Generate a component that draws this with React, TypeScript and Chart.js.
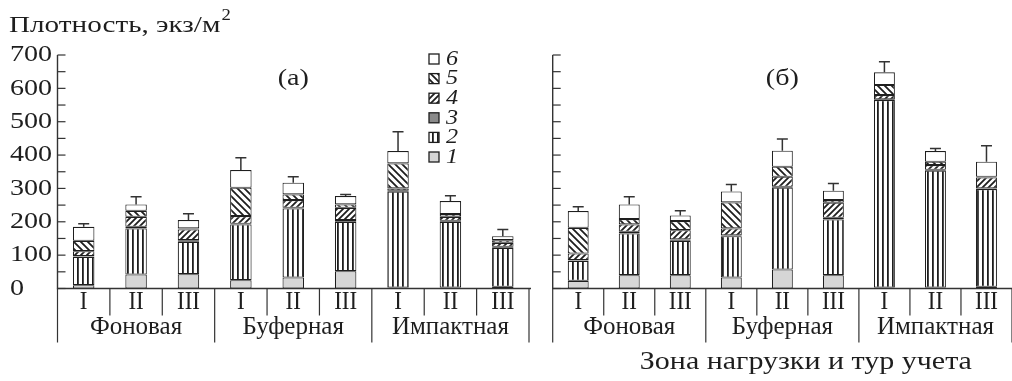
import React, { useEffect, useRef } from "react";
import { Chart, registerables } from "chart.js";

Chart.register(...registerables);

// ---- data ----
const categories = ["I", "II", "III", "I", "II", "III", "I", "II", "III"];
const groups = ["Фоновая", "Буферная", "Импактная"];
const yTicks = [0, 100, 200, 300, 400, 500, 600, 700];
const seriesNames = ["1", "2", "3", "4", "5", "6"];

// panel (а)
const a1 = [10, 42, 43, 25, 33, 52, 3, 3, 5];
const a2 = [85, 138, 97, 167, 207, 148, 287, 197, 117];
const a3 = [2, 5, 5, 2, 2, 5, 3, 3, 3];
const a4 = [15, 30, 32, 23, 23, 37, 7, 12, 12];
const a5 = [31, 18, 3, 85, 17, 10, 75, 8, 8];
const a6 = [42, 19, 25, 53, 35, 25, 37, 39, 12];
const aErr = [9, 23, 19, 37, 18, 5, 58, 16, 20];

// panel (б)
const b1 = [23, 40, 40, 33, 57, 40, 3, 3, 5];
const b2 = [60, 125, 103, 124, 245, 167, 562, 350, 293];
const b3 = [2, 5, 4, 2, 3, 5, 2, 3, 2];
const b4 = [20, 22, 28, 21, 30, 45, 13, 14, 33];
const b5 = [77, 16, 27, 78, 30, 8, 30, 10, 2];
const b6 = [50, 44, 17, 33, 48, 28, 38, 32, 45];
const bErr = [13, 23, 14, 21, 35, 22, 32, 8, 48];

const FONT = '"Liberation Serif"';
const INK = "#1e1e1e";

function txt(
  ctx: CanvasRenderingContext2D,
  s: string,
  x: number,
  y: number,
  size: number,
  align: "left" | "center" | "right",
  italic = false,
  sx = 1.17
) {
  ctx.save();
  ctx.font = `${italic ? "italic " : ""}${size}px ${FONT}`;
  ctx.textBaseline = "middle";
  ctx.textAlign = "left";
  ctx.fillStyle = INK;
  const w = ctx.measureText(s).width * sx;
  const x0 = align === "center" ? x - w / 2 : align === "right" ? x - w : x;
  ctx.translate(x0, y);
  ctx.scale(sx, 1);
  ctx.fillText(s, 0, 0);
  ctx.restore();
}

function makePattern(kind: string): CanvasPattern | string {
  const c = document.createElement("canvas");
  const g = c.getContext("2d")!;
  if (kind === "vert") {
    c.width = 5;
    c.height = 5;
    g.fillStyle = "#fff";
    g.fillRect(0, 0, 5, 5);
    g.fillStyle = INK;
    g.fillRect(2, 0, 1.8, 5);
  } else if (kind === "fwd") {
    const n = 6;
    c.width = n;
    c.height = n;
    g.fillStyle = "#fff";
    g.fillRect(0, 0, n, n);
    g.strokeStyle = INK;
    g.lineWidth = 1.8;
    g.beginPath();
    g.moveTo(-1, n + 1);
    g.lineTo(n + 1, -1);
    g.moveTo(-1, 1);
    g.lineTo(1, -1);
    g.moveTo(n - 1, n + 1);
    g.lineTo(n + 1, n - 1);
    g.stroke();
  } else {
    const n = 7;
    c.width = n;
    c.height = n;
    g.fillStyle = "#fff";
    g.fillRect(0, 0, n, n);
    g.strokeStyle = INK;
    g.lineWidth = 1.8;
    g.beginPath();
    g.moveTo(-1, -1);
    g.lineTo(n + 1, n + 1);
    g.moveTo(n - 1, -1);
    g.lineTo(n + 1, 1);
    g.moveTo(-1, n - 1);
    g.lineTo(1, n + 1);
    g.stroke();
  }
  return g.createPattern(c, "repeat") || "#fff";
}

function makeChart(
  canvas: HTMLCanvasElement,
  series: number[][],
  err: number[],
  opts: {
    padLeft: number;
    padRight: number;
    showY: boolean;
    panelLabel: string;
    legend: boolean;
    footer: boolean;
  }
) {
  const fills = [
    "#d6d6d6",
    makePattern("vert"),
    "#8a8a8a",
    makePattern("fwd"),
    makePattern("back"),
    "#ffffff",
  ];

  const panelPlugin = {
    id: "panel",
    afterDatasetsDraw(chart: any) {
      const ctx: CanvasRenderingContext2D = chart.ctx;
      const xs = chart.scales.x;
      const ys = chart.scales.y;
      ctx.save();
      ctx.strokeStyle = "#333";
      ctx.lineWidth = 1.5;
      for (let i = 0; i < categories.length; i++) {
        let tot = 0;
        for (const s of series) tot += s[i];
        const x = xs.getPixelForValue(i);
        const y1 = ys.getPixelForValue(tot);
        const y2 = ys.getPixelForValue(tot + err[i]);
        ctx.beginPath();
        ctx.moveTo(x, y1);
        ctx.lineTo(x, y2);
        ctx.moveTo(x - 5.5, y2);
        ctx.lineTo(x + 5.5, y2);
        ctx.stroke();
      }
      ctx.restore();
    },
    afterDraw(chart: any) {
      const ctx: CanvasRenderingContext2D = chart.ctx;
      const xs = chart.scales.x;
      const ys = chart.scales.y;
      const area = chart.chartArea;
      ctx.save();
      ctx.strokeStyle = "#333";
      ctx.lineWidth = 1.4;
      ctx.beginPath();
      ctx.moveTo(area.left, ys.getPixelForValue(700));
      ctx.lineTo(area.left, area.bottom);
      ctx.lineTo(area.right + 2, area.bottom);
      ctx.stroke();
      ctx.lineWidth = 1.2;
      for (let v = 0; v <= 700; v += 50) {
        const y = ys.getPixelForValue(v);
        ctx.beginPath();
        ctx.moveTo(area.left, y);
        ctx.lineTo(area.left + 8, y);
        ctx.stroke();
      }
      for (let i = 0; i <= categories.length; i++) {
        const x = xs.getPixelForValue(i - 0.5);
        const long = i % 3 === 0;
        ctx.beginPath();
        ctx.moveTo(x, area.bottom);
        ctx.lineTo(x, area.bottom + (long ? 54 : 27));
        ctx.stroke();
      }
      ctx.restore();
      categories.forEach((c, i) => {
        txt(ctx, c, xs.getPixelForValue(i), area.bottom + 14, 25, "center", false, 0.92);
      });
      groups.forEach((gname, gi) => {
        txt(ctx, gname, xs.getPixelForValue(gi * 3 + 1), area.bottom + 39, 25, "center", false, 1.0);
      });
      if (opts.showY) {
        yTicks.forEach((v) => {
          txt(ctx, String(v), 10, ys.getPixelForValue(v), 24, "left", false, 1.17);
        });
        const title = "Плотность, экз/м";
        txt(ctx, title, 9, 26, 24, "left", false, 1.215);
        ctx.save();
        ctx.font = `24px ${FONT}`;
        const w = ctx.measureText(title).width * 1.215;
        ctx.restore();
        txt(ctx, "2", 9 + w + 1, 16, 16, "left", false, 1.17);
      }
      txt(ctx, opts.panelLabel, xs.getPixelForValue(4), ys.getPixelForValue(628), 24, "center");
      if (opts.legend) {
        const lx = area.left + 371.5;
        for (let k = 0; k < 6; k++) {
          const idx = 5 - k;
          const y = area.top + 4 + k * 19.6;
          ctx.save();
          ctx.fillStyle = fills[idx] as any;
          ctx.fillRect(lx, y - 5, 10, 10);
          ctx.strokeStyle = INK;
          ctx.lineWidth = 1.3;
          ctx.strokeRect(lx, y - 5, 10, 10);
          ctx.restore();
          txt(ctx, seriesNames[idx], lx + 17, y, 22, "left", true, 1.1);
        }
      }
      if (opts.footer) {
        txt(
          ctx,
          "Зона нагрузки и тур учета",
          (xs.getPixelForValue(4) + xs.getPixelForValue(5)) / 2 - 2,
          362,
          25,
          "center",
          false,
          1.2
        );
      }
    },
  };

  return new Chart(canvas, {
    type: "bar",
    data: {
      labels: categories,
      datasets: series.map((s, k) => ({
        label: seriesNames[k],
        data: s,
        backgroundColor: fills[k] as any,
        borderColor: INK,
        borderWidth: 1.1,
        borderSkipped: false,
        barPercentage: 0.41,
        categoryPercentage: 1,
      })),
    },
    options: {
      responsive: false,
      animation: false,
      devicePixelRatio: 1,
      layout: {
        padding: { left: opts.padLeft, right: opts.padRight, top: 55, bottom: 92.5 },
      },
      plugins: { legend: { display: false }, tooltip: { enabled: false } },
      scales: {
        x: { display: false, stacked: true, offset: true },
        y: { display: false, stacked: true, min: 0, max: 700 },
      },
    },
    plugins: [panelPlugin],
  });
}

export default function App() {
  const leftRef = useRef<HTMLCanvasElement>(null);
  const rightRef = useRef<HTMLCanvasElement>(null);

  useEffect(() => {
    let c1: Chart | null = null;
    let c2: Chart | null = null;
    let cancelled = false;
    const build = () => {
      if (cancelled) return;
      c1 = makeChart(leftRef.current!, [a1, a2, a3, a4, a5, a6], aErr, {
        padLeft: 57.5,
        padRight: 11,
        showY: true,
        panelLabel: "(а)",
        legend: true,
        footer: false,
      });
      c2 = makeChart(rightRef.current!, [b1, b2, b3, b4, b5, b6], bErr, {
        padLeft: 12.7,
        padRight: 0,
        showY: false,
        panelLabel: "(б)",
        legend: false,
        footer: true,
      });
    };
    const fonts: any = (document as any).fonts;
    if (fonts && fonts.load) {
      Promise.all([
        fonts.load(`24px ${FONT}`, "Плотность700"),
        fonts.load(`italic 22px ${FONT}`, "123456"),
      ])
        .catch(() => null)
        .then(build);
    } else {
      build();
    }
    return () => {
      cancelled = true;
      if (c1) c1.destroy();
      if (c2) c2.destroy();
    };
  }, []);

  return (
    <div
      style={{
        position: "absolute",
        left: 0,
        top: 0,
        width: 1012,
        height: 381,
        background: "#fff",
        overflow: "hidden",
      }}
    >
      <canvas
        ref={leftRef}
        width={540}
        height={381}
        style={{ position: "absolute", left: 0, top: 0, width: 540, height: 381 }}
      />
      <canvas
        ref={rightRef}
        width={472}
        height={381}
        style={{ position: "absolute", left: 540, top: 0, width: 472, height: 381 }}
      />
    </div>
  );
}
